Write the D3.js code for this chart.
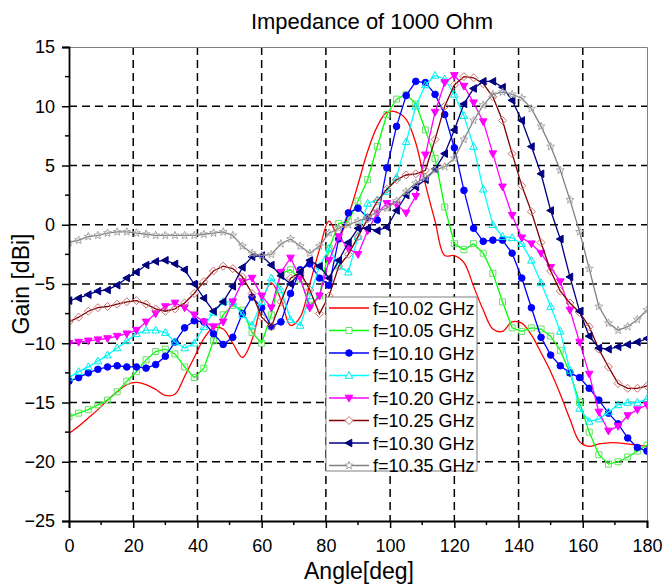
<!DOCTYPE html>
<html>
<head>
<meta charset="utf-8">
<script src="https://cdn.jsdelivr.net/npm/d3@7"></script>
<style>
	body { margin: 0; background: #fff; }
	text { font-family: "Liberation Sans", Arial, sans-serif; fill: #000; }
</style>
</head>
<body>
<div id="chart"></div>
<script>

// angles [deg], sampled every 3 degrees
var angles = [0, 3, 6, 9, 12, 15, 18, 21, 24, 27, 30, 33, 36, 39, 42, 45, 48, 51, 54, 57, 60,
	63, 66, 69, 72, 75, 78, 81, 84, 87, 90, 93, 96, 99, 102, 105, 108, 111, 114, 117, 120,
	123, 126, 129, 132, 135, 138, 141, 144, 147, 150, 153, 156, 159, 162, 165, 168, 171, 174, 177, 180];

var seriesNames = ["f=10.02 GHz", "f=10.05 GHz", "f=10.10 GHz", "f=10.15 GHz",
	"f=10.20 GHz", "f=10.25 GHz", "f=10.30 GHz", "f=10.35 GHz"];

// gain [dBi]
var gain1002 = [-17.6, -17.0, -16.3, -15.6, -14.8, -14.1, -13.5, -13.3, -13.5, -13.9, -14.4,
	-14.3, -12.8, -11.2, -9.6, -8.7, -8.8, -10.0, -11.2, -9.7, -6.6,
	-4.9, -6.3, -8.5, -7.8, -5.0, -2.1, 0.3, -1.0, 0.8, 3.4,
	6.2, 8.3, 9.5, 9.5, 8.9, 6.9, 3.4, 0.3, -2.6, -2.6,
	-3.2, -5.2, -7.2, -8.8, -9.0, -8.2, -8.3, -9.3, -10.8, -12.4,
	-14.3, -16.4, -18.3, -18.7, -18.5, -18.4, -18.4, -18.5, -18.6, -18.7];

var gain1005 = [-16.2, -15.9, -15.6, -15.2, -14.8, -14.1, -13.2, -12.4, -11.4, -10.7, -10.5,
	-10.9, -12.0, -12.9, -12.1, -9.8, -7.6, -6.8, -7.2, -9.1, -10.0,
	-7.6, -4.1, -3.8, -4.6, -6.8, -6.0, -2.0, 0.1, 0.3, 2.0,
	3.8, 6.6, 9.3, 10.6, 11.0, 10.2, 8.0, 5.6, 1.5, -1.6,
	-2.1, -1.6, -2.4, -4.1, -6.5, -8.7, -9.0, -8.7, -8.8, -9.4,
	-10.6, -12.5, -15.0, -17.5, -19.4, -20.2, -20.0, -19.6, -19.1, -18.6];

var gain1010 = [-13.2, -12.9, -12.5, -12.2, -12.0, -11.9, -12.0, -12.0, -12.1, -11.8, -11.1,
	-9.9, -8.7, -8.1, -8.2, -9.2, -10.1, -9.5, -7.5, -6.1, -7.0,
	-8.6, -8.2, -5.8, -3.8, -3.3, -4.5, -5.1, -1.2, 1.0, 1.4,
	0.6, 0.4, 4.8, 8.3, 10.9, 12.1, 12.0, 11.0, 9.3, 6.5,
	2.9, -0.3, -1.4, -1.3, -1.3, -2.4, -4.5, -7.0, -9.5, -11.0,
	-11.9, -12.5, -12.9, -13.8, -14.8, -15.9, -16.8, -18.0, -18.8, -19.1];

var gain1015 = [-12.9, -12.4, -12.0, -11.5, -11.0, -10.4, -9.8, -9.2, -8.9, -8.9, -9.1,
	-9.9, -10.4, -10.0, -8.6, -7.4, -6.5, -6.5, -7.6, -8.5, -6.5,
	-4.5, -5.5, -8.0, -8.5, -6.0, -3.5, -2.0, -3.5, -4.0, -1.0,
	1.8, 2.1, 2.8, 4.0, 7.0, 10.0, 11.8, 12.6, 12.3, 11.0,
	9.2, 6.6, 3.0, 0.0, -1.0, -1.1, -1.6, -3.0, -4.9, -6.9,
	-9.0, -12.3, -15.5, -16.6, -16.4, -15.8, -15.2, -15.0, -15.0, -14.7];

var gain1020 = [-10.0, -9.9, -9.8, -9.7, -9.6, -9.4, -9.2, -8.9, -8.2, -7.5, -6.9,
	-6.6, -7.0, -7.6, -8.2, -8.6, -8.2, -6.5, -4.8, -4.5, -6.0,
	-7.0, -4.0, -2.8, -4.5, -7.0, -6.0, -3.0, -1.0, -2.0, -2.5,
	-0.5, 1.0, 1.8, 1.7, 1.0, 2.4, 5.9, 9.5, 12.0, 12.6,
	11.7, 10.3, 8.7, 6.0, 3.2, 0.8, -1.1, -1.6, -2.4, -3.6,
	-4.8, -7.2, -9.9, -12.6, -15.8, -17.4, -17.0, -16.1, -15.6, -15.2];

var gain1025 = [-8.2, -7.8, -7.3, -7.0, -6.9, -6.7, -6.5, -6.4, -6.7, -7.1, -7.3,
	-7.1, -6.6, -5.8, -4.8, -3.9, -3.5, -3.7, -4.4, -5.8, -7.8,
	-8.6, -6.5, -4.5, -4.0, -5.5, -7.5, -6.0, -3.5, -2.5, -1.0,
	0.5, 2.0, 3.0, 3.8, 4.2, 4.3, 4.6, 7.2, 10.0, 11.8,
	12.5, 12.4, 11.9, 10.8, 8.8, 6.0, 3.3, 1.1, -1.5, -3.9,
	-5.6, -6.6, -7.4, -8.6, -10.5, -12.0, -13.4, -13.8, -13.8, -13.6];

var gain1030 = [-6.4, -6.2, -5.9, -5.6, -5.5, -5.1, -4.5, -4.0, -3.4, -3.1, -3.0,
	-3.3, -3.8, -5.0, -6.2, -7.3, -6.5, -5.2, -3.6, -2.7, -2.6,
	-3.4, -4.3, -5.0, -4.0, -3.0, -3.5, -4.5, -3.0, -1.5, -0.3,
	-0.3, -0.5, -0.2, 1.2, 2.5, 3.2, 3.8, 4.7, 6.0, 8.0,
	10.2, 11.5, 12.1, 12.1, 11.6, 10.5, 8.8, 6.6, 4.3, 1.2,
	-1.2, -4.4, -7.3, -9.4, -10.4, -10.5, -10.3, -10.1, -9.9, -9.6];

var gain1035 = [-1.5, -1.3, -1.0, -0.9, -0.7, -0.6, -0.6, -0.7, -0.8, -0.9, -0.9,
	-0.9, -0.9, -0.9, -0.8, -0.7, -0.6, -0.9, -1.8, -2.4, -2.6,
	-2.5, -1.6, -1.2, -1.8, -2.4, -1.8, -0.7, -0.3, 0.0, 0.3,
	0.6, 1.1, 1.4, 2.0, 2.8, 3.5, 4.0, 4.6, 4.9, 5.6,
	7.2, 8.8, 10.1, 11.0, 11.2, 11.0, 10.7, 9.8, 8.3, 6.6,
	4.6, 2.1, -0.6, -3.7, -6.9, -8.3, -8.9, -8.6, -8.0, -7.2];

var xTicks = [0, 20, 40, 60, 80, 100, 120, 140, 160, 180];
var yTicks = [-25, -20, -15, -10, -5, 0, 5, 10, 15];

///////////////////////////////////////////////////////////////////////////
//////////////////////////// Series appearance ////////////////////////////
///////////////////////////////////////////////////////////////////////////

var seriesValues = [gain1002, gain1005, gain1010, gain1015, gain1020, gain1025, gain1030, gain1035];

var seriesStyle = [
	{ line: "#ff0000", marker: null },
	{ line: "#00ff00", marker: "square", fill: "none", stroke: "#66e066" },
	{ line: "#0000ff", marker: "circle", fill: "#0000ff", stroke: "#0000ff" },
	{ line: "#00ffff", marker: "triUp", fill: "none", stroke: "#00e8e8" },
	{ line: "#ff00ff", marker: "triDown", fill: "#ff00ff", stroke: "#ff00ff" },
	{ line: "#800000", marker: "diamond", fill: "none", stroke: "#c87070" },
	{ line: "#000080", marker: "triLeft", fill: "#000080", stroke: "#000080" },
	{ line: "#808080", marker: "star", fill: "none", stroke: "#a8a8a8" }
];

function markerPath(type) {
	if (type === "square") return "M-3,-3h6v6h-6Z";
	if (type === "circle") return "M3.3,0A3.3,3.3 0 1,1 -3.3,0A3.3,3.3 0 1,1 3.3,0Z";
	if (type === "triUp") return "M0,-4L3.8,2.8L-3.8,2.8Z";
	if (type === "triDown") return "M0,4L3.8,-2.8L-3.8,-2.8Z";
	if (type === "triLeft") return "M-4,0L2.8,-3.8L2.8,3.8Z";
	if (type === "diamond") return "M0,-4L4,0L0,4L-4,0Z";
	if (type === "star") {
		var p = [];
		for (var k = 0; k < 10; k++) {
			var r = k % 2 === 0 ? 4.2 : 1.8;
			var a = -Math.PI / 2 + k * Math.PI / 5;
			p.push((r * Math.cos(a)).toFixed(2) + "," + (r * Math.sin(a)).toFixed(2));
		}
		return "M" + p.join("L") + "Z";
	}
	return "";
}

///////////////////////////////////////////////////////////////////////////
//////////////////// Set up and initiate svg containers ///////////////////
///////////////////////////////////////////////////////////////////////////

var svgW = 663,
	svgH = 584;
var margin = { left: 69, top: 47, right: 16, bottom: 63 },
	width = svgW - margin.left - margin.right,
	height = svgH - margin.top - margin.bottom;

var root = d3.select("#chart")
	.append("svg")
	.attr("width", svgW)
	.attr("height", svgH);

var svg = root.append("g")
	.attr("transform", "translate(" + margin.left + "," + margin.top + ")");

var xScale = d3.scaleLinear().domain([0, 180]).range([0, width]);
var yScale = d3.scaleLinear().domain([-25, 15]).range([height, 0]);

svg.append("clipPath")
	.attr("id", "plot-area")
	.append("rect")
	.attr("x", 0).attr("y", 0)
	.attr("width", width).attr("height", height);

///////////////////////////////////////////////////////////////////////////
//////////////////////////////// Grid lines ///////////////////////////////
///////////////////////////////////////////////////////////////////////////

var grid = svg.append("g").attr("class", "grid");

grid.selectAll(".vgrid")
	.data(xTicks.slice(1, -1))
	.enter().append("line")
	.attr("x1", function(d) { return xScale(d); })
	.attr("x2", function(d) { return xScale(d); })
	.attr("y1", 0).attr("y2", height)
	.attr("stroke", "#000")
	.attr("stroke-width", 1.5)
	.attr("stroke-dasharray", "8,5");

grid.selectAll(".hgrid")
	.data(yTicks.slice(1, -1))
	.enter().append("line")
	.attr("y1", function(d) { return yScale(d); })
	.attr("y2", function(d) { return yScale(d); })
	.attr("x1", 0).attr("x2", width)
	.attr("stroke", "#000")
	.attr("stroke-width", 1.5)
	.attr("stroke-dasharray", "8,5");

// top & right frame
svg.append("path")
	.attr("d", "M0,0.5H" + (width + 0.5) + "V" + height)
	.attr("fill", "none")
	.attr("stroke", "#808080")
	.attr("stroke-width", 1);

///////////////////////////////////////////////////////////////////////////
/////////////////////////////// Draw the lines ////////////////////////////
///////////////////////////////////////////////////////////////////////////

var lineGen = d3.line()
	.x(function(d, i) { return xScale(angles[i]); })
	.y(function(d) { return yScale(d); });

var plot = svg.append("g").attr("clip-path", "url(#plot-area)");

seriesValues.forEach(function(vals, s) {
	var st = seriesStyle[s];
	plot.append("path")
		.datum(vals)
		.attr("fill", "none")
		.attr("stroke", st.line)
		.attr("stroke-width", 1.3)
		.attr("d", s === 0 ? lineGen.curve(d3.curveCatmullRom)(vals) : lineGen.curve(d3.curveLinear)(vals));
	if (st.marker) {
		plot.selectAll(".m" + s)
			.data(vals)
			.enter().append("path")
			.attr("class", "m" + s)
			.attr("transform", function(d, i) {
				return "translate(" + xScale(angles[i]) + "," + yScale(d) + ")";
			})
			.attr("d", markerPath(st.marker))
			.attr("fill", st.fill === "none" ? "#fff" : st.fill)
			.attr("fill-opacity", st.fill === "none" ? 0 : 1)
			.attr("stroke", st.stroke)
			.attr("stroke-width", 1);
	}
});

///////////////////////////////////////////////////////////////////////////
//////////////////////////////// Draw the axes ////////////////////////////
///////////////////////////////////////////////////////////////////////////

var xAxis = d3.axisBottom(xScale)
	.tickValues(xTicks)
	.tickSize(7)
	.tickPadding(11);

var gX = svg.append("g")
	.attr("transform", "translate(0," + height + ")")
	.call(xAxis);

// minor ticks on x
gX.selectAll(".minor")
	.data(d3.range(10, 180, 20))
	.enter().append("line")
	.attr("x1", function(d) { return xScale(d); })
	.attr("x2", function(d) { return xScale(d); })
	.attr("y1", 0).attr("y2", 4)
	.attr("stroke", "#000")
	.attr("stroke-width", 1.5);

var yAxis = d3.axisLeft(yScale)
	.tickValues(yTicks)
	.tickSize(7)
	.tickPadding(7);

var gY = svg.append("g").call(yAxis);

gY.selectAll(".minor")
	.data(d3.range(-22.5, 15, 5))
	.enter().append("line")
	.attr("y1", function(d) { return yScale(d); })
	.attr("y2", function(d) { return yScale(d); })
	.attr("x1", 0).attr("x2", -4)
	.attr("stroke", "#000")
	.attr("stroke-width", 1.5);

[gX, gY].forEach(function(g) {
	g.select(".domain").attr("stroke", "#000").attr("stroke-width", 1.8);
	g.selectAll(".tick line").attr("stroke", "#000").attr("stroke-width", 1.5);
	g.selectAll(".tick text")
		.attr("fill", "#000")
		.style("font-size", "18px")
		.style("font-family", "'Liberation Sans', Arial, sans-serif");
});

// Titles
root.append("text")
	.attr("x", 372)
	.attr("y", 29)
	.attr("text-anchor", "middle")
	.style("font-size", "22px")
	.text("Impedance of 1000 Ohm");

root.append("text")
	.attr("x", 359)
	.attr("y", 579)
	.attr("text-anchor", "middle")
	.style("font-size", "23px")
	.text("Angle[deg]");

root.append("text")
	.attr("transform", "translate(29," + (margin.top + height / 2) + ") rotate(-90)")
	.attr("text-anchor", "middle")
	.style("font-size", "23px")
	.text("Gain [dBi]");

///////////////////////////////////////////////////////////////////////////
/////////////////////////////// Draw the legend ///////////////////////////
///////////////////////////////////////////////////////////////////////////

var legend = root.append("g")
	.attr("transform", "translate(326,297)");

legend.append("rect")
	.attr("x", 0).attr("y", 0)
	.attr("width", 151).attr("height", 174)
	.attr("fill", "#fff")
	.attr("stroke", "#808080")
	.attr("stroke-width", 1);

var rows = legend.selectAll(".row")
	.data(seriesNames)
	.enter().append("g")
	.attr("transform", function(d, i) { return "translate(0," + (11 + i * 22.5) + ")"; });

rows.append("line")
	.attr("x1", 3).attr("x2", 43)
	.attr("y1", 0).attr("y2", 0)
	.attr("stroke", function(d, i) { return seriesStyle[i].line; })
	.attr("stroke-width", 1.4);

rows.each(function(d, i) {
	var st = seriesStyle[i];
	if (!st.marker) return;
	d3.select(this).append("path")
		.attr("transform", "translate(23,0)")
		.attr("d", markerPath(st.marker))
		.attr("fill", st.fill === "none" ? "#fff" : st.fill)
		.attr("stroke", st.stroke)
		.attr("stroke-width", 1);
});

rows.append("text")
	.attr("x", 47)
	.attr("y", 6.5)
	.style("font-size", "18px")
	.text(function(d) { return d; });

</script>
</body>
</html>
